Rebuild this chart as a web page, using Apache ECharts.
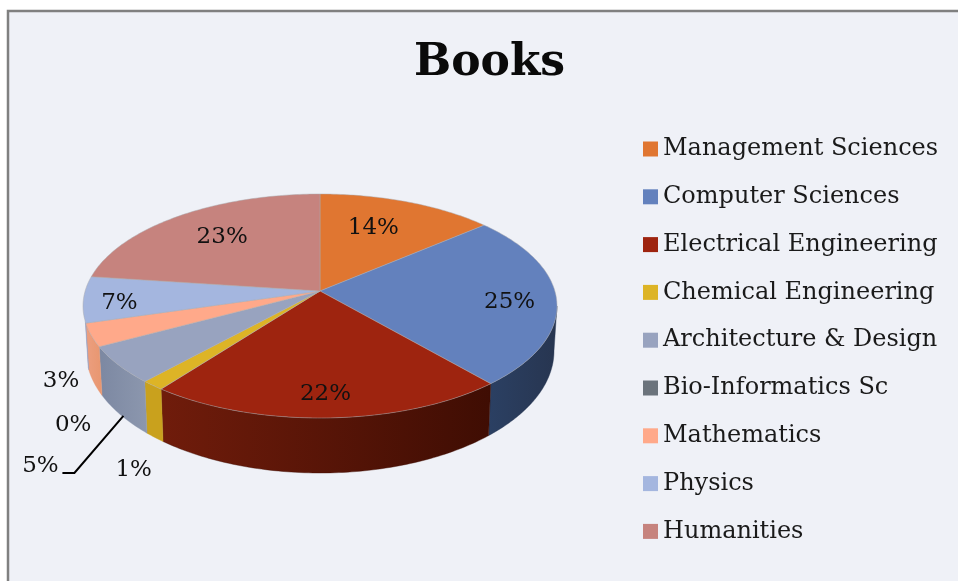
<!DOCTYPE html>
<html><head><meta charset="utf-8">
<style>html,body{margin:0;padding:0;background:#fff}#c{width:958px;height:581px}</style>
<script src="https://cdn.jsdelivr.net/npm/echarts@6/dist/echarts.min.js"></script>
</head><body><div id="c"></div>
<script>
const categories = ['Management Sciences','Computer Sciences','Electrical Engineering','Chemical Engineering','Architecture & Design','Bio-Informatics Sc','Mathematics','Physics','Humanities'];
const values = [13.8,24.8,21.8,1.4,5.4,0,3.3,6.6,22.9];
const topColors = ['#E07631','#6381BD','#9E240F','#DDB426','#98A3BF','#6B737C','#FFA98A','#A4B6DF','#C6837E'];
const sideColors = [['#b05a22','#b05a22'],['#2b4063','#273550'],['#701c0b','#3f0d03'],['#c9a11d','#c9a11d'],['#7c88a2','#8c97ae'],['#555','#555'],['#ec9f80','#e8966f'],['#8ea0c8','#8ea0c8'],['#a06560','#a06560']];
const labelOffsets = [[-34,26],[-47,3],[-3,-24],[-19,85],[-78,101],[-26,78],[-30,46],[36,4],[42,21]];
const leader = {index:4, points:[[5,51],[-44,108],[-56,108]]};

const geo = {cx:320, apexY:291, topY:306, rx:237, ry:112, botY:351, botRx:234, botRy:122, sideMinPhi:Math.PI/2, sideMaxPhi:262/180*Math.PI};
const e = (geo.topY-geo.apexY)/geo.ry;
const total = values.reduce((a,b)=>a+b,0);
const font = '23px "DejaVu Serif"';

function rimPhi(theta){
  const s=Math.sin(theta), c=Math.cos(theta);
  const t=-e*c+Math.sqrt(1-e*e*s*s);
  let phi=Math.atan2(t*s, e+t*c);
  if(phi<0) phi+=Math.PI*2;
  if(theta<1e-9) phi=0;
  if(theta>Math.PI*2-1e-9) phi=Math.PI*2;
  return phi;
}
const topPt = phi=>[geo.cx+geo.rx*Math.sin(phi), geo.topY-geo.ry*Math.cos(phi)];
const botPt = phi=>[geo.cx+geo.botRx*Math.sin(phi), geo.botY-geo.botRy*Math.cos(phi)];

function renderItem(params, api){
  const i=params.seriesIndex, color=api.visual('color'), v=api.value(0);
  let before=0; for(let k=0;k<i;k++) before+=values[k];
  const a0=before/total*Math.PI*2, a1=(before+v)/total*Math.PI*2;
  const children=[];
  if(v>0){
    const n=Math.max(8,Math.ceil((a1-a0)*60));
    const rim=[]; for(let k=0;k<=n;k++) rim.push(topPt(rimPhi(a0+(a1-a0)*k/n)));
    const p0=Math.max(rimPhi(a0),geo.sideMinPhi), p1=Math.min(rimPhi(a1),geo.sideMaxPhi);
    if(p1>p0){
      const up=[],dn=[];
      for(let k=0;k<=n;k++){const p=p0+(p1-p0)*k/n; up.push(topPt(p)); dn.unshift(botPt(p));}
      children.push({type:'polygon',shape:{points:up.concat(dn)},silent:true,style:{
        fill:{type:'linear',x:0,y:0,x2:1,y2:0,colorStops:[{offset:0,color:sideColors[i][0]},{offset:1,color:sideColors[i][1]}]},
        stroke:sideColors[i][1],lineWidth:0.4}});
    }
    children.push({type:'polygon',shape:{points:[[geo.cx,geo.apexY]].concat(rim)},silent:true,z2:2,
      style:{fill:color,stroke:'rgba(170,170,175,0.6)',lineWidth:0.8}});
  }
  const mid=rimPhi((a0+a1)/2), m=topPt(mid), off=labelOffsets[i];
  children.push({type:'text',z2:10,silent:true,style:{text:Math.round(v)+'%',x:m[0]+off[0],y:m[1]+off[1],font:font,fill:'#111',textAlign:'center',textVerticalAlign:'middle'}});
  if(i===leader.index){
    children.push({type:'polyline',z2:10,silent:true,shape:{points:leader.points.map(p=>[m[0]+p[0],m[1]+p[1]])},style:{stroke:'#000',lineWidth:2,fill:null}});
  }
  return {type:'group',children};
}

const chart=echarts.init(document.getElementById('c'),null,{renderer:'canvas'});
chart.setOption({
  animation:false,
  backgroundColor:'#ffffff',
  graphic:[{type:'rect',z:-10,silent:true,shape:{x:8,y:11,width:1100,height:800},style:{fill:'#EFF1F7',stroke:'#808080',lineWidth:2.5}}],
  title:{text:'Books',left:414,top:42,padding:0,textStyle:{fontFamily:'DejaVu Serif',fontWeight:'bold',fontSize:44,color:'#0a0a0a'}},
  legend:{orient:'vertical',left:643,top:137,icon:'rect',itemWidth:15,itemHeight:15,itemGap:23.8,selectedMode:false,padding:0,
    data:categories,textStyle:{fontFamily:'DejaVu Serif',fontSize:24,lineHeight:24,color:'#1a1a1a'}},
  series:categories.map((name,i)=>({type:'custom',name,coordinateSystem:'none',renderItem,silent:true,data:[[values[i]]],
    itemStyle:{color:topColors[i]}}))
});
</script></body></html>
